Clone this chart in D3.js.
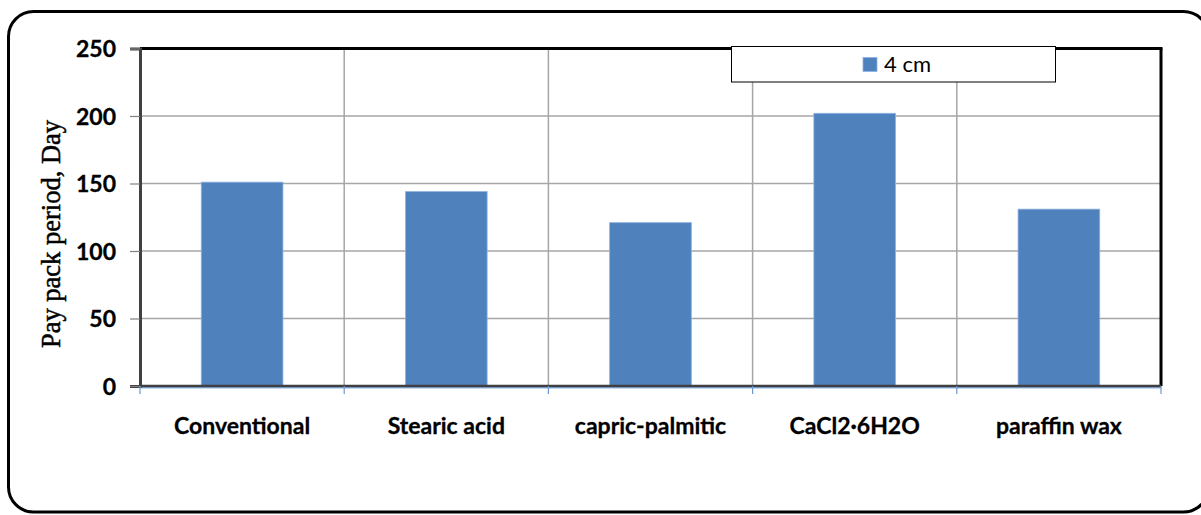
<!DOCTYPE html>
<html>
<head>
<meta charset="utf-8">
<script src="https://cdn.jsdelivr.net/npm/d3@7"></script>
<style>
  html, body { margin: 0; padding: 0; background: #fff; }
  svg { display: block; }
</style>
</head>
<body>
<svg id="chart" width="1201" height="515"></svg>
<script>
// Payback period per storage material (4 cm layer)
const categories = ["Conventional", "Stearic acid", "capric-palmitic", "CaCl2·6H2O", "paraffin wax"];
const paybackDays = [151, 144, 121, 202, 131];
const yTicks = [0, 50, 100, 150, 200, 250];
const seriesName = "4 cm";

const svg = d3.select("#chart");
const plot = { left: 140, right: 1161, top: 48.5, bottom: 386 };
const barColor = "#4f81bd";
const labelFont = "Lato, 'Open Sans', sans-serif";

// Rounded outer frame
svg.append("rect")
  .attr("x", 8.5).attr("y", 11.5)
  .attr("width", 1200).attr("height", 500.5)
  .attr("rx", 25).attr("ry", 25)
  .attr("fill", "#fff").attr("stroke", "#000").attr("stroke-width", 3);

const x = d3.scaleBand().domain(categories).range([plot.left, plot.right]).padding(0);
const y = d3.scaleLinear().domain([0, 250]).range([plot.bottom, plot.top]);

// Horizontal gridlines
svg.append("g")
  .selectAll("line").data(yTicks.filter(t => t > 0 && t < 250)).join("line")
  .attr("x1", plot.left).attr("x2", plot.right)
  .attr("y1", d => y(d)).attr("y2", d => y(d))
  .attr("stroke", "#a6a6a6").attr("stroke-width", 1.5);

// Vertical gridlines at category boundaries
svg.append("g")
  .selectAll("line").data(categories.slice(1)).join("line")
  .attr("x1", d => x(d)).attr("x2", d => x(d))
  .attr("y1", plot.top).attr("y2", plot.bottom)
  .attr("stroke", "#a6a6a6").attr("stroke-width", 1.5);

// Bars
const barW = x.bandwidth() * 0.4;
svg.append("g")
  .selectAll("rect").data(categories).join("rect")
  .attr("x", d => x(d) + (x.bandwidth() - barW) / 2)
  .attr("y", (d, i) => y(paybackDays[i]))
  .attr("width", barW)
  .attr("height", (d, i) => y(0) - y(paybackDays[i]))
  .attr("fill", barColor)
  .attr("stroke", "#8db3e2").attr("stroke-width", 0.8);

// Plot frame: top and right in black
svg.append("line").attr("x1", plot.left).attr("x2", plot.right + 1.5)
  .attr("y1", plot.top).attr("y2", plot.top)
  .attr("stroke", "#000").attr("stroke-width", 3);
svg.append("line").attr("x1", plot.right).attr("x2", plot.right)
  .attr("y1", plot.top).attr("y2", plot.bottom)
  .attr("stroke", "#000").attr("stroke-width", 3);

// Y axis
const yAxis = d3.axisLeft(y).tickValues(yTicks).tickSize(10).tickPadding(14)
  .tickFormat(d3.format("d"));
const gy = svg.append("g").attr("transform", `translate(${plot.left},0)`).call(yAxis);
gy.select(".domain").attr("stroke", "#404040").attr("stroke-width", 3);
gy.selectAll(".tick line").attr("stroke", "#808080").attr("stroke-width", 1.2);
gy.selectAll(".tick text")
  .attr("font-family", labelFont)
  .attr("font-weight", "bold").attr("font-size", 23).attr("fill", "#000")
  .attr("stroke", "#000").attr("stroke-width", 0.3)
  .attr("dy", "0.36em");

// X axis baseline
svg.append("line").attr("x1", plot.left).attr("x2", plot.right)
  .attr("y1", plot.bottom).attr("y2", plot.bottom)
  .attr("stroke", "#404040").attr("stroke-width", 2.5);
svg.append("line").attr("x1", plot.left).attr("x2", plot.right)
  .attr("y1", plot.bottom + 1.8).attr("y2", plot.bottom + 1.8)
  .attr("stroke", "#4f81bd").attr("stroke-width", 1);

// X axis ticks at category boundaries
const boundaries = categories.map(c => x(c)).concat([plot.right]);
svg.append("g")
  .selectAll("line").data(boundaries).join("line")
  .attr("x1", d => d).attr("x2", d => d)
  .attr("y1", plot.bottom).attr("y2", plot.bottom + 8)
  .attr("stroke", "#6f97cf").attr("stroke-width", 1.2);

// Category labels
svg.append("g")
  .selectAll("text").data(categories).join("text")
  .attr("x", d => x(d) + x.bandwidth() / 2)
  .attr("y", 434)
  .attr("text-anchor", "middle")
  .attr("font-family", labelFont)
  .attr("font-weight", "bold").attr("font-size", 23).attr("fill", "#000")
  .attr("stroke", "#000").attr("stroke-width", 0.3)
  .text(d => d);

// Y axis title
svg.append("text")
  .attr("transform", "translate(59.5,234) rotate(-90)")
  .attr("text-anchor", "middle")
  .attr("font-family", "'Liberation Serif', 'Times New Roman', serif")
  .attr("font-size", 26.5).attr("fill", "#000")
  .attr("stroke", "#000").attr("stroke-width", 0.5)
  .text("Pay pack period, Day");

// Legend
const lg = svg.append("g");
lg.append("rect").attr("x", 731.5).attr("y", 46.5).attr("width", 324).attr("height", 35.5)
  .attr("fill", "#fff").attr("stroke", "#000").attr("stroke-width", 1);
lg.append("rect").attr("x", 863).attr("y", 57.5).attr("width", 14).attr("height", 14)
  .attr("fill", barColor).attr("stroke", "#8db3e2").attr("stroke-width", 0.8);
lg.append("text").attr("x", 884).attr("y", 72)
  .attr("font-family", labelFont)
  .attr("font-size", 22).attr("fill", "#000")
  .text(seriesName);
</script>
</body>
</html>
